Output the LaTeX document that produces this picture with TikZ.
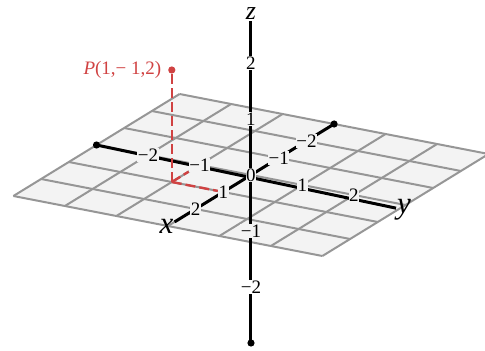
\documentclass[tikz,border=0pt]{standalone}
\usepackage{fontspec}
\setmainfont{Liberation Serif}
\definecolor{rossopunto}{RGB}{208,66,66}
\definecolor{griglia}{RGB}{150,150,150}
\definecolor{piano}{RGB}{243,243,243}

\begin{document}
\begin{tikzpicture}[x={(-27.7pt,-17pt)},y={(51.5pt,-10pt)},z={(0pt,56pt)},
  font=\fontsize{19}{19}\selectfont,
  asse/.style={line width=3pt,black},
  linea/.style={griglia,line width=2pt},
  tratto/.style={rossopunto,line width=2.4pt,dash pattern=on 10pt off 4pt},
  tacca/.style={inner sep=0.6pt,fill=piano},
  nomeasse/.style={inner sep=1pt,font=\fontsize{31}{31}\selectfont\itshape}]

\useasboundingbox (-251pt,-176pt) rectangle (234pt,175pt);

% ---- piano xy ----
\fill[piano] (-3,-3,0) -- (3,-3,0) -- (3,3,0) -- (-3,3,0) -- cycle;
\foreach \i in {-3,...,3} {
  \draw[linea] (\i,-3,0) -- (\i,3,0);
  \draw[linea] (-3,\i,0) -- (3,\i,0);
}

% ---- estremi e nomi degli assi ----
\coordinate (xneg) at (-3,0,0);
\coordinate (yneg) at (0,-3,0);
\coordinate (zneg) at (0,0,-3);
\node[nomeasse] (xlab) at (3.05,0,0) {x};
\node[nomeasse,yshift=-4pt] (ylab) at (0.05,3.0,0) {y};
\node[nomeasse,font=\fontsize{26}{26}\selectfont\itshape] (zlab) at (0,0,2.88) {z};

% ---- assi ----
\draw[asse] (xneg) -- (xlab);
\draw[asse] (yneg) -- (ylab);
\draw[asse] (zneg) -- (zlab);
\fill (xneg) circle (3.6pt);
\fill (yneg) circle (3.6pt);
\fill (zneg) circle (3.6pt);

% ---- tacche ----
\foreach \t/\s in {-2/−2,-1/−1,1/1,2/2} {
  \node[tacca] (tx\t) at (\t,0,0) {\s};
  \node[tacca] (ty\t) at (0,\t,0) {\s};
}
\node[tacca] (tz-1) at (0,0,-1) {−1};
\node[tacca] (tz1) at (0,0,1) {1};
\node[tacca,fill=white] (tz-2) at (0,0,-2) {−2};
\node[tacca,fill=white] (tz2) at (0,0,2) {2};
\node[tacca] (orig) at (0,0,0) {0};

% ---- punto P ----
\coordinate (Pxy) at (1,-1,0);
\coordinate (P) at (1,-1,2);
\draw[tratto] (Pxy) -- (tx1);
\draw[tratto] (Pxy) -- (ty-1);
\draw[tratto] (Pxy) -- (P);
\fill[rossopunto] (P) circle (3.6pt);
\node[rossopunto,left=7pt] (Plab) at (P) {\textit{P}(1,− 1,2)};

\end{tikzpicture}
\end{document}
